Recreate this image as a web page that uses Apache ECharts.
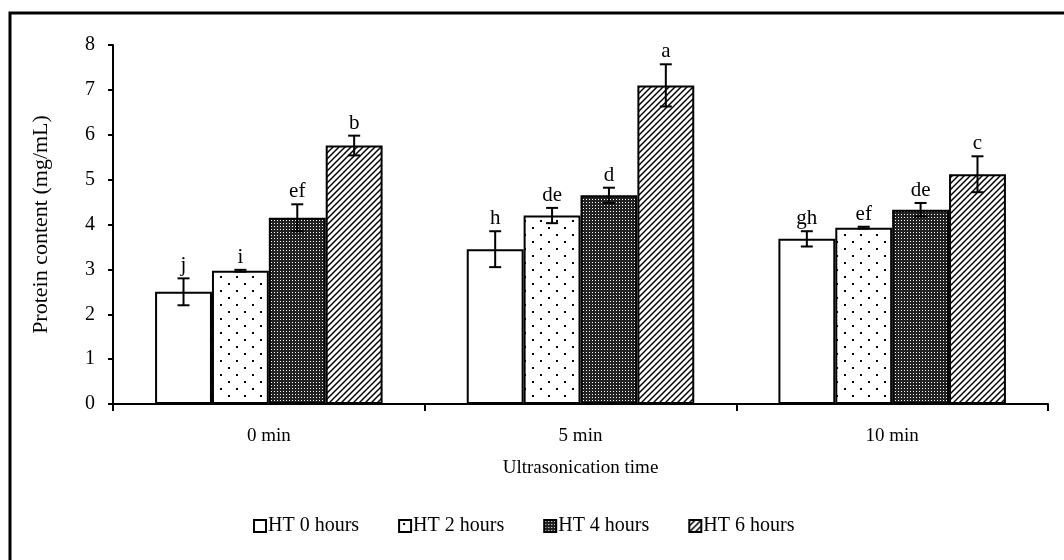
<!DOCTYPE html>
<html>
<head>
<meta charset="utf-8">
<script src="https://cdn.jsdelivr.net/npm/echarts@6/dist/echarts.min.js"></script>
<style>
  html, body { margin: 0; padding: 0; background: #fff; }
  #chart { width: 1064px; height: 560px; }
</style>
</head>
<body>
<div id="chart"></div>
<script>
  // data
  var categories = ['0 min', '5 min', '10 min'];
  var seriesNames = ['HT 0 hours', 'HT 2 hours', 'HT 4 hours', 'HT 6 hours'];
  var ht0 = [2.50, 3.45, 3.68];
  var ht2 = [2.97, 4.20, 3.93];
  var ht4 = [4.15, 4.65, 4.33];
  var ht6 = [5.76, 7.10, 5.12];
  var err0 = [0.30, 0.40, 0.17];
  var err2 = [0.02, 0.17, 0.02];
  var err4 = [0.30, 0.17, 0.15];
  var err6 = [0.22, 0.47, 0.40];
  var let0 = ['j', 'h', 'gh'];
  var let2 = ['i', 'de', 'ef'];
  var let4 = ['ef', 'd', 'de'];
  var let6 = ['b', 'a', 'c'];

  var values = [ht0, ht2, ht4, ht6];
  var errs = [err0, err2, err4, err6];
  var letters = [let0, let2, let4, let6];

  var FONT = '"Liberation Serif", "Times New Roman", serif';
  var GAP = 0.27;

  /** fill patterns */
  function tile(w, h, draw) {
    var c = document.createElement('canvas');
    c.width = w; c.height = h;
    var ctx = c.getContext('2d');
    ctx.fillStyle = '#fff';
    ctx.fillRect(0, 0, w, h);
    draw(ctx, w, h);
    return { image: c, repeat: 'repeat' };
  }
  var dots = tile(16, 14, function(ctx) {
    ctx.fillStyle = '#000';
    ctx.fillRect(4, 3, 2, 2);
    ctx.fillRect(12, 10, 2, 2);
  });
  var mesh = tile(3, 3, function(ctx) {
    ctx.fillStyle = '#222';
    ctx.fillRect(0, 0, 3, 3);
    ctx.fillStyle = '#fff';
    ctx.fillRect(1, 1, 1, 1);
  });
  var hatch = tile(6, 6, function(ctx, w, h) {
    ctx.strokeStyle = '#000';
    ctx.lineWidth = 1.5;
    ctx.beginPath();
    ctx.moveTo(-1, h + 1); ctx.lineTo(w + 1, -1);
    ctx.moveTo(-2, 2); ctx.lineTo(2, -2);
    ctx.moveTo(w - 2, h + 2); ctx.lineTo(w + 2, h - 2);
    ctx.stroke();
  });
  var fills = ['#fff', dots, mesh, hatch];

  var barSeries = seriesNames.map(function(name, i) {
    return {
      name: name,
      type: 'bar',
      data: values[i],
      barGap: '0%',
      barCategoryGap: (GAP * 100) + '%',
      itemStyle: { color: fills[i], borderColor: '#000', borderWidth: 2 },
      emphasis: { disabled: true }
    };
  });

  // error bars + letters
  var errData = [];
  values.forEach(function(vals, s) {
    vals.forEach(function(v, c) {
      errData.push([c, v, errs[s][c], s, letters[s][c]]);
    });
  });

  var errSeries = {
    type: 'custom',
    data: errData,
    z: 10,
    silent: true,
    renderItem: function(params, api) {
      var c = api.value(0), v = api.value(1), e = api.value(2), s = api.value(3);
      var band = api.size([1, 0])[0];
      var bw = band * (1 - GAP) / 4;
      var x = api.coord([c, v])[0] + (s - 1.5) * bw;
      var yTop = api.coord([c, v + e])[1];
      var yBot = api.coord([c, v - e])[1];
      var cap = 6;
      var st = { stroke: '#000', lineWidth: 2 };
      return {
        type: 'group',
        children: [
          { type: 'line', shape: { x1: x, y1: yTop, x2: x, y2: yBot }, style: st },
          { type: 'line', shape: { x1: x - cap, y1: yTop, x2: x + cap, y2: yTop }, style: st },
          { type: 'line', shape: { x1: x - cap, y1: yBot, x2: x + cap, y2: yBot }, style: st },
          { type: 'text', x: x, y: yTop - 2, style: {
              text: api.value(4), font: '21px ' + FONT, fill: '#000',
              textAlign: 'center', textVerticalAlign: 'bottom' } }
        ]
      };
    }
  };

  var option = {
    backgroundColor: '#fff',
    animation: false,
    textStyle: { fontFamily: FONT },
    graphic: [{
      type: 'rect',
      shape: { x: 10, y: 13, width: 1100, height: 600 },
      style: { fill: 'none', stroke: '#000', lineWidth: 3 }
    }],
    grid: { left: 113, right: 16, top: 45, bottom: 156 },
    legend: {
      data: seriesNames,
      left: 248,
      top: 511,
      itemWidth: 12,
      itemHeight: 12,
      itemGap: 39,
      icon: 'rect',
      textStyle: { fontFamily: FONT, fontSize: 20, color: '#000', padding: [0, 0, 0, -3] }
    },
    xAxis: {
      type: 'category',
      data: categories,
      name: 'Ultrasonication time',
      nameLocation: 'middle',
      nameGap: 55,
      nameTextStyle: { fontFamily: FONT, fontSize: 19, color: '#000' },
      axisLine: { lineStyle: { color: '#000', width: 2 } },
      axisTick: { show: true, length: 7, lineStyle: { color: '#000', width: 2 } },
      axisLabel: { fontFamily: FONT, fontSize: 19, color: '#000', margin: 23 },
      splitLine: { show: false }
    },
    yAxis: {
      type: 'value',
      min: 0,
      max: 8,
      interval: 1,
      name: 'Protein content (mg/mL)',
      nameLocation: 'middle',
      nameGap: 61,
      nameTextStyle: { fontFamily: FONT, fontSize: 22, color: '#000' },
      axisLine: { show: true, lineStyle: { color: '#000', width: 2 } },
      axisTick: { show: true, length: 5, lineStyle: { color: '#000', width: 2 } },
      axisLabel: { fontFamily: FONT, fontSize: 20, color: '#000', margin: 18 },
      splitLine: { show: false }
    },
    series: barSeries.concat([errSeries])
  };

  echarts.init(document.getElementById('chart')).setOption(option);
</script>
</body>
</html>
